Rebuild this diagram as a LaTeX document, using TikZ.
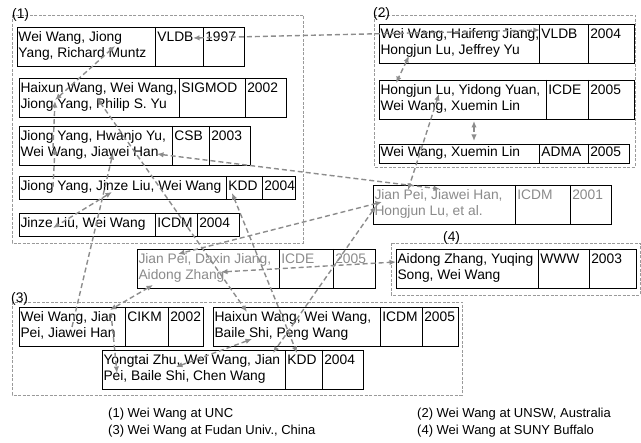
\documentclass[tikz,border=0pt]{standalone}
\usepackage{fontspec}
\setmainfont{Liberation Sans}
\usetikzlibrary{shapes.multipart,arrows.meta}
\definecolor{LinkGray}{HTML}{8C8C8C}
\definecolor{GroupGray}{HTML}{9A9A9A}
\definecolor{OldGray}{HTML}{8A8A8A}
\newcommand{\paperfont}{\fontsize{13.8}{15.5}\selectfont}
\newcommand{\twolines}[3]{\parbox[t]{#1}{\strut\mbox{#2}\\\mbox{#3}\strut}}
\newcommand{\oneline}[2]{\makebox[#1][l]{\strut#2}}
\tikzset{
  paper/.style={rectangle split,rectangle split horizontal,rectangle split parts=3,rectangle split part align=base,draw=black,line width=0.9pt,inner xsep=1.5pt,inner ysep=4pt,outer sep=0pt,anchor=north west,font=\paperfont},
  oldpaper/.style={paper,text=OldGray},
  group/.style={draw=GroupGray,line width=0.9pt,dash pattern=on 3pt off 1.5pt},
  grouplabel/.style={anchor=base west,inner sep=0pt,font=\paperfont},
  link/.style={{Latex[length=6.5pt,width=5.5pt]}-{Latex[length=6.5pt,width=5.5pt]},draw=LinkGray,line width=1.4pt,dash pattern=on 5pt off 3pt},
  linkto/.style={-{Latex[length=6.5pt,width=5.5pt]},draw=LinkGray,line width=1.4pt,dash pattern=on 5pt off 3pt},
  legend/.style={anchor=base west,inner sep=0pt,font=\fontsize{13}{15}\selectfont},
}

\begin{document}
\begin{tikzpicture}[x=1pt,y=-1pt]
  \useasboundingbox (0,0) rectangle (641,443);

  % Groups
  \draw[group] (12,15) rectangle (303,243);
  \draw[group] (374,15) rectangle (635,167);
  \draw[group] (12,302) rectangle (462,395);
  \draw[group] (391,243) rectangle (640,295);
  \node[grouplabel] (lab1) at (12,19) {(1)};
  \node[grouplabel] (lab2) at (373,18) {(2)};
  \node[grouplabel] (lab3) at (11,303) {(3)};
  \node[grouplabel] (lab4) at (443,242) {(4)};

  % (1) UNC
  \node[paper] (vldb97) at (17,27) {\twolines{135pt}{Wei Wang, Jiong}{Yang, Richard Muntz}\nodepart{two}\oneline{44pt}{VLDB}\nodepart{three}\oneline{38pt}{1997}};
  \node[paper] (sigmod02) at (19,78) {\twolines{157pt}{Haixun Wang, Wei Wang,}{Jiong Yang, Philip S. Yu}\nodepart{two}\oneline{62pt}{SIGMOD}\nodepart{three}\oneline{38pt}{2002}};
  \node[paper] (csb03) at (19,126) {\twolines{150pt}{Jiong Yang, Hwanjo Yu,}{Wei Wang, Jiawei Han}\nodepart{two}\oneline{33pt}{CSB}\nodepart{three}\oneline{38pt}{2003}};
  \node[paper] (kdd04a) at (19,176) {\oneline{204pt}{Jiong Yang, Jinze Liu, Wei Wang}\nodepart{two}\oneline{32pt}{KDD}\nodepart{three}\oneline{30pt}{2004}};
  \node[paper] (icdm04a) at (19,213) {\oneline{133pt}{Jinze Liu, Wei Wang}\nodepart{two}\oneline{38pt}{ICDM}\nodepart{three}\oneline{39pt}{2004}};

  % (2) UNSW
  \node[paper] (vldb04) at (379,24) {\twolines{157pt}{Wei Wang, Haifeng Jiang,}{Hongjun Lu, Jeffrey Yu}\nodepart{two}\oneline{45pt}{VLDB}\nodepart{three}\oneline{43pt}{2004}};
  \node[paper] (icde05a) at (379,80) {\twolines{164pt}{Hongjun Lu, Yidong Yuan,}{Wei Wang, Xuemin Lin}\nodepart{two}\oneline{38pt}{ICDE}\nodepart{three}\oneline{43pt}{2005}};
  \node[paper,inner ysep=2pt] (adma05) at (379,144) {\oneline{157pt}{Wei Wang, Xuemin Lin}\nodepart{two}\oneline{45pt}{ADMA}\nodepart{three}\oneline{38pt}{2005}};

  % others
  \node[oldpaper] (icdm01) at (373,185) {\twolines{139pt}{Jian Pei, Jiawei Han,}{Hongjun Lu, et al.}\nodepart{two}\oneline{51pt}{ICDM}\nodepart{three}\oneline{38pt}{2001}};
  \node[oldpaper] (icde05b) at (137,249) {\twolines{139pt}{Jian Pei, Daxin Jiang,}{Aidong Zhang}\nodepart{two}\oneline{50pt}{ICDE}\nodepart{three}\oneline{39pt}{2005}};

  % (4) SUNY Buffalo
  \node[paper] (www03) at (396,249) {\twolines{139pt}{Aidong Zhang, Yuqing}{Song, Wei Wang}\nodepart{two}\oneline{47pt}{WWW}\nodepart{three}\oneline{44pt}{2003}};

  % (3) Fudan
  \node[paper] (cikm02) at (19,307) {\twolines{103pt}{Wei Wang, Jian}{Pei, Jiawei Han}\nodepart{two}\oneline{39pt}{CIKM}\nodepart{three}\oneline{32pt}{2002}};
  \node[paper] (icdm05) at (213,307) {\twolines{164pt}{Haixun Wang, Wei Wang,}{Baile Shi, Peng Wang}\nodepart{two}\oneline{38pt}{ICDM}\nodepart{three}\oneline{33pt}{2005}};
  \node[paper] (kdd04b) at (102,350) {\twolines{180pt}{Yongtai Zhu, Wei Wang, Jian}{Pei, Baile Shi, Chen Wang}\nodepart{two}\oneline{33pt}{KDD}\nodepart{three}\oneline{38pt}{2004}};

  % Links
  \draw[link] ([shift={(176,11)}]vldb97.north west) -- ([shift={(161,6)}]vldb04.north west);
  \draw[link] ([shift={(98,19)}]vldb97.north west) -- ([shift={(36,22)}]sigmod02.north west);
  \draw[linkto] ([shift={(34,11)}]kdd04a.north west) -- ([shift={(36,22)}]csb03.north west);
  \draw[linkto] ([shift={(34,22)}]csb03.north west) -- ([shift={(36,23)}]sigmod02.north west);
  \draw[link] ([shift={(78,20)}]sigmod02.north west) -- ([shift={(34,5)}]icdm05.north west);
  \draw[link] ([shift={(93,16)}]kdd04a.north west) -- ([shift={(34,15)}]icdm04a.north west);
  \draw[linkto] ([shift={(53,20)}]cikm02.north west) -- ([shift={(94,27)}]csb03.north west);
  \draw[link] ([shift={(138,28)}]csb03.north west) -- ([shift={(67,4)}]icdm01.north west);
  \draw[link] ([shift={(213,17)}]kdd04a.north west) -- ([shift={(195,3)}]kdd04b.north west);
  \draw[link] ([shift={(9,17)}]icdm01.north west) -- ([shift={(41,5)}]icde05b.north west);
  \draw[link] ([shift={(84,23)}]icde05b.north west) -- ([shift={(0,13)}]www03.north west);
  \draw[link] ([shift={(16,36)}]icde05b.north west) -- ([shift={(91,3)}]cikm02.north west);
  \draw[linkto] ([shift={(92,6)}]cikm02.north west) -- ([shift={(15,23)}]kdd04b.north west);
  \draw[link] ([shift={(3,21)}]icdm01.north west) -- ([shift={(171,3)}]kdd04b.north west);
  \draw[link] ([shift={(74,17)}]kdd04b.north west) -- ([shift={(39,32)}]icdm05.north west);
  \draw[link] ([shift={(30,32)}]vldb04.north west) -- ([shift={(17,3)}]icde05a.north west);
  \draw[link] ([shift={(95,41)}]icde05a.north west) -- ([shift={(95,-3)}]adma05.north west);
  \draw[link] ([shift={(60,14)}]icde05a.north west) -- ([shift={(35,5)}]icdm01.north west);

  % Legend
  \node[legend] (leg1) at (108,418) {(1) Wei Wang at UNC};
  \node[legend] (leg3) at (108,435) {(3) Wei Wang at Fudan Univ., China};
  \node[legend] (leg2) at (417,418) {(2) Wei Wang at UNSW, Australia};
  \node[legend] (leg4) at (417,435) {(4) Wei Wang at SUNY Buffalo};
\end{tikzpicture}
\end{document}
